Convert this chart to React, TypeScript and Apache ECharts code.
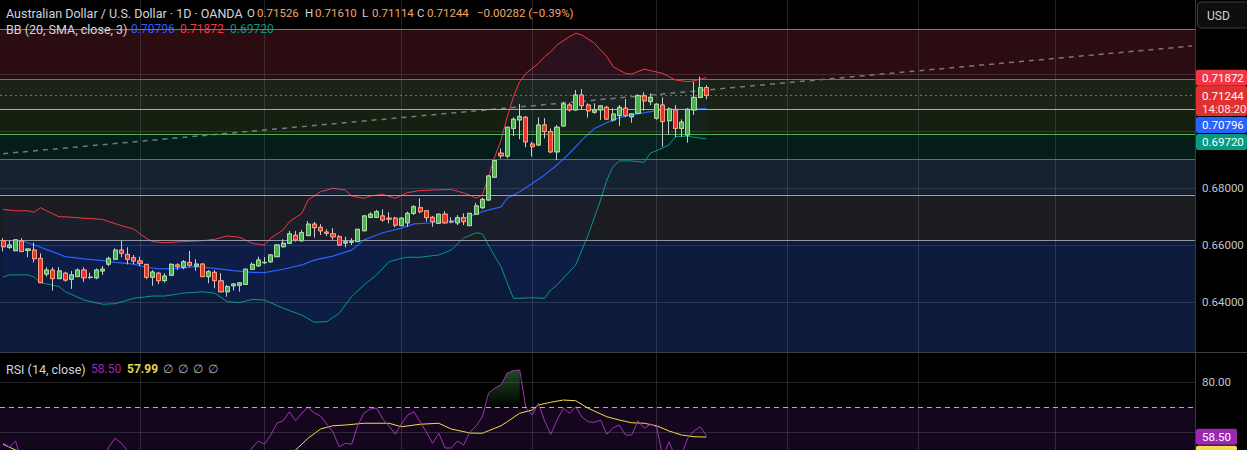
import React, { useEffect, useRef } from "react";
import * as echarts from "echarts";

const W = 1247;
const H = 450;
const SLOT_COUNT = 192;
const categories = Array.from({ length: SLOT_COUNT }, (_, i) => `D${i + 1}`);

const opens = [0.6615,0.6592,0.6580,0.6614,0.6581,0.6582,0.6553,0.6498,0.6512,0.6482,
 0.6501,0.6480,0.6489,0.6512,0.6486,0.6485,0.6509,0.6533,0.6550,0.6582,
 0.6567,0.6555,0.6544,0.6532,0.6487,0.6501,0.6475,0.6494,0.6530,0.6522,
 0.6539,0.6526,0.6533,0.6489,0.6504,0.6474,0.6436,0.6457,0.6459,0.6462,
 0.6515,0.6527,0.6538,0.6541,0.6559,0.6594,0.6606,0.6634,0.6615,0.6633,
 0.6673,0.6662,0.6645,0.6639,0.6629,0.6607,0.6610,0.6612,0.6650,0.6697,
 0.6697,0.6702,0.6694,0.6694,0.6668,0.6678,0.6711,0.6731,0.6720,0.6697,
 0.6676,0.6708,0.6682,0.6678,0.6696,0.6668,0.6708,0.6731,0.6758,0.6838,
 0.6922,0.6912,0.7009,0.7039,0.7048,0.6954,0.6951,0.7021,0.6998,0.6927,
 0.7018,0.7091,0.7074,0.7126,0.7091,0.7066,0.7074,0.7083,0.7039,0.7054,
 0.7080,0.7050,0.7062,0.7123,0.7103,0.7045,0.7091,0.7036,0.7074,0.7009,
 0.6986,0.7074,0.7118,0.71526];
const highs = [0.6624,0.6615,0.6619,0.6624,0.6588,0.6609,0.6571,0.6522,0.6522,0.6522,
 0.6506,0.6509,0.6518,0.6522,0.6503,0.6518,0.6526,0.6559,0.6588,0.6615,
 0.6592,0.6565,0.6559,0.6533,0.6512,0.6506,0.6501,0.6536,0.6536,0.6547,
 0.6579,0.6550,0.6535,0.6512,0.6512,0.6501,0.6460,0.6466,0.6470,0.6516,
 0.6539,0.6559,0.6557,0.6568,0.6602,0.6620,0.6650,0.6649,0.6653,0.6684,
 0.6681,0.6673,0.6655,0.6659,0.6635,0.6629,0.6624,0.6656,0.6704,0.6715,
 0.6723,0.6725,0.6715,0.6699,0.6697,0.6717,0.6740,0.6764,0.6723,0.6702,
 0.6709,0.6719,0.6697,0.6705,0.6711,0.6712,0.6748,0.6766,0.6844,0.6897,
 0.6939,0.7015,0.7048,0.7095,0.7053,0.6962,0.7048,0.7045,0.7009,0.7021,
 0.7103,0.7099,0.7144,0.7147,0.7097,0.7097,0.7091,0.7088,0.7080,0.7091,
 0.7112,0.7062,0.7129,0.7136,0.7132,0.7097,0.7118,0.7083,0.7091,0.7041,
 0.7080,0.7173,0.7191,0.71610];
const lows = [0.6577,0.6586,0.6579,0.6575,0.6557,0.6539,0.6467,0.6489,0.6440,0.6481,
 0.6471,0.6446,0.6488,0.6471,0.6480,0.6480,0.6495,0.6526,0.6547,0.6557,
 0.6532,0.6532,0.6526,0.6480,0.6457,0.6463,0.6468,0.6492,0.6512,0.6515,
 0.6524,0.6509,0.6488,0.6466,0.6448,0.6435,0.6419,0.6440,0.6436,0.6461,
 0.6512,0.6524,0.6533,0.6539,0.6558,0.6592,0.6606,0.6612,0.6612,0.6632,
 0.6626,0.6635,0.6632,0.6618,0.6596,0.6592,0.6600,0.6611,0.6649,0.6694,
 0.6694,0.6682,0.6676,0.6662,0.6667,0.6664,0.6705,0.6711,0.6682,0.6664,
 0.6675,0.6674,0.6676,0.6670,0.6670,0.6667,0.6705,0.6726,0.6756,0.6837,
 0.6904,0.6904,0.6982,0.6971,0.6943,0.6910,0.6948,0.6974,0.6922,0.6898,
 0.7015,0.7068,0.7071,0.7074,0.7047,0.7060,0.7039,0.7039,0.7033,0.7018,
 0.7048,0.7029,0.7060,0.7071,0.7091,0.7039,0.6945,0.6986,0.6978,0.6980,
 0.6959,0.7056,0.7115,0.71114];
const closes = [0.6594,0.6600,0.6618,0.6577,0.6586,0.6552,0.6468,0.6512,0.6482,0.6509,
 0.6477,0.6495,0.6512,0.6485,0.6487,0.6512,0.6515,0.6553,0.6582,0.6571,
 0.6550,0.6544,0.6536,0.6487,0.6505,0.6475,0.6491,0.6532,0.6524,0.6541,
 0.6529,0.6533,0.6489,0.6506,0.6475,0.6436,0.6454,0.6463,0.6467,0.6515,
 0.6532,0.6547,0.6539,0.6565,0.6600,0.6606,0.6639,0.6618,0.6643,0.6673,
 0.6661,0.6650,0.6641,0.6629,0.6600,0.6611,0.6611,0.6655,0.6702,0.6708,
 0.6717,0.6688,0.6691,0.6670,0.6694,0.6711,0.6734,0.6717,0.6696,0.6682,
 0.6708,0.6678,0.6681,0.6696,0.6682,0.6711,0.6737,0.6760,0.6842,0.6896,
 0.6913,0.7013,0.7041,0.7051,0.6962,0.6945,0.7021,0.6998,0.6927,0.7013,
 0.7095,0.7074,0.7126,0.7089,0.7071,0.7074,0.7088,0.7042,0.7059,0.7083,
 0.7054,0.7060,0.7124,0.7106,0.7118,0.7094,0.7033,0.7077,0.7009,0.7031,
 0.7076,0.7118,0.7152,0.71244];

// Bollinger bands: [candle index, price]
const bbUpper = [[0,0.6725],[2,0.6720],[4,0.6720],[5,0.6715],[6,0.6731],[7,0.6720],[9,0.6699],[10,0.6699],[13,0.6694],[16,0.6690],[17,0.6682],[19,0.6668],[21,0.6656],[22,0.6639],[23,0.6624],[24,0.6612],[26,0.6608],[29,0.6612],[32,0.6615],[34,0.6620],[36,0.6632],[38,0.6627],[40,0.6606],[42,0.6600],[43,0.6624],[45,0.6653],[46,0.6682],[48,0.6711],[49,0.6758],[51,0.6787],[53,0.6799],[55,0.6793],[56,0.6772],[58,0.6764],[59,0.6772],[61,0.6778],[63,0.6764],[65,0.6784],[67,0.6791],[69,0.6793],[72,0.6795],[73,0.6789],[75,0.6775],[76,0.6764],[77,0.6775],[78,0.6840],[79,0.6910],[80,0.6968],[81,0.7050],[82,0.7120],[83,0.7173],[84,0.7202],[86,0.7237],[87,0.7261],[88,0.7278],[89,0.7302],[91,0.7331],[92,0.7343],[93,0.7337],[95,0.7308],[97,0.7261],[98,0.7226],[100,0.7202],[101,0.7200],[103,0.7217],[104,0.7212],[106,0.7202],[108,0.7179],[110,0.7173],[111,0.7176],[113,0.71872]];
const bbBasis = [[0,0.6615],[3,0.6615],[5,0.6600],[8,0.6576],[10,0.6559],[13,0.6551],[16,0.6545],[18,0.6539],[21,0.6533],[23,0.6522],[25,0.6516],[28,0.6518],[31,0.6524],[34,0.6518],[37,0.6510],[40,0.6504],[42,0.6503],[45,0.6515],[48,0.6530],[50,0.6547],[53,0.6561],[56,0.6582],[58,0.6618],[61,0.6643],[64,0.6659],[66,0.6674],[69,0.6678],[72,0.6685],[74,0.6694],[77,0.6717],[80,0.6734],[81,0.6764],[83,0.6787],[85,0.6816],[87,0.6846],[89,0.6881],[91,0.6922],[93,0.6968],[95,0.7009],[98,0.7039],[100,0.7053],[102,0.7060],[104,0.7068],[106,0.7074],[108,0.7076],[111,0.7077],[113,0.70796]];
const bbLower = [[0,0.6487],[1,0.6495],[4,0.6495],[5,0.6487],[6,0.6468],[9,0.6454],[10,0.6436],[13,0.6407],[16,0.6392],[18,0.6394],[21,0.6413],[24,0.6421],[26,0.6421],[29,0.6431],[32,0.6436],[34,0.6431],[36,0.6401],[38,0.6398],[40,0.6409],[42,0.6407],[45,0.6378],[48,0.6354],[50,0.6329],[52,0.6331],[54,0.6360],[56,0.6419],[58,0.6460],[60,0.6495],[62,0.6541],[64,0.6553],[65,0.6557],[67,0.6557],[70,0.6565],[72,0.6582],[74,0.6624],[76,0.6643],[77,0.6639],[79,0.6559],[80,0.6524],[81,0.6466],[82,0.6413],[83,0.6413],[85,0.6415],[87,0.6413],[88,0.6442],[89,0.6460],[92,0.6530],[94,0.6635],[96,0.6758],[97,0.6828],[98,0.6875],[99,0.6895],[101,0.6895],[103,0.6890],[104,0.6922],[105,0.6931],[107,0.6951],[108,0.6980],[110,0.6982],[111,0.6978],[113,0.6972]];

const rsiValues = [55.5,54,56.4,48,50,46,37,40,38,42,
 41,43,45,43,44,47,48,54,57.6,55.5,
 52.5,52,50,44,47,44,46,50,49,50,
 48,49,46,47,45,41,42,44,46,50,
 53.6,56.4,55.1,58.8,63.5,64.5,68.1,64.5,67.6,69.9,
 67.6,66.4,63.2,60,54.1,55.5,55.1,62.8,67.6,69.2,
 69.6,65.2,62.4,59.1,63.2,66.8,68.1,64,60,55.5,
 59.5,53.6,53.6,56.4,54.8,60,62.4,66,75.6,77.6,
 78.8,83.6,84.6,84.8,69.5,66.8,71.5,64.4,59.1,64.8,
 69.5,67.5,70.1,66,64.1,63.9,64.8,59.1,61.6,62.8,
 58.8,58.8,64.5,61.5,63.1,62,50,56.1,50,51,
 57.5,60.4,62.1,58.5];
const rsiMa = [[0,55.1],[2,52.8],[3,52],[10,47],[20,46],[30,45],[40,48],[45,51],[47,52.8],[49,57.5],[51,61.2],[53,62.5],[55,62.8],[58,63.5],[62,63.5],[64,62.1],[67,63.1],[70,63.5],[72,61.2],[75,59.6],[77,59.5],[79,61.5],[80,62.5],[81,64.1],[83,67.5],[85,68.8],[86,70.8],[88,71.9],[90,72.8],[92,72.5],[94,69.5],[97,66.1],[99,64.8],[101,63.7],[103,63.5],[105,62.5],[107,60.4],[109,58.8],[111,58.1],[113,57.99]];
const OB_FROM = 78;
const OB_TO = 83;

const fibLevels = [0.73579, 0.71832, 0.70751, 0.69877, 0.69003, 0.67759, 0.66175];
const fibLineColors = ["#787b86", "#f23645", "#81c784", "#4caf50", "#089981", "#64b5f6", "#9598a1"];
const fibZoneColors = ["#2b0d11", "#1b2216", "#152011", "#051d19", "#162131", "#1b1c20", "#0c1a3b"];

const PRICE_MIN = 0.62246;
const PRICE_MAX = 0.74596;
const RSI_MIN = 52.8;
const RSI_MAX = 91.6;
const priceTicks = [0.64, 0.66, 0.68];
const priceGridLevels = [0.64, 0.66, 0.68, 0.7, 0.72];
const rsiTicks = [80];
const rsiGridLevels = [60, 80];
const monthIdx = [22, 42, 64, 85, 105, 126, 147, 169];
const trendPts = [[0, 0.69204], [191, 0.72981]];
const rsiLast = 58.5;
const rsiMaLast = 57.99;
const countdown = "14:08:20";
const changeText = "\u22120.00282 (\u22120.39%)";

const FONT = "Roboto";
const GRID_COLOR = "rgba(130,134,150,0.26)";

const hline = (v: number, extra: any = {}) => ({ yAxis: v, ...extra });
const vline = (i: number) => ({ xAxis: categories[i] });

function buildOption() {
  const zones = fibZoneColors.map((c, k) => [
    { yAxis: fibLevels[k], itemStyle: { color: c } },
    { yAxis: k + 1 < fibLevels.length ? fibLevels[k + 1] : PRICE_MIN },
  ]);
  const markLineBase = { silent: true, precision: 6, symbol: ["none", "none"], label: { show: false } };
  return {
    animation: false,
    backgroundColor: "#000000",
    textStyle: { fontFamily: FONT },
    grid: [
      { left: 0, right: 52, top: 0, height: 352 },
      { left: 0, right: 52, top: 353, height: 97 },
    ],
    xAxis: [0, 1].map((g) => ({
      type: "category",
      gridIndex: g,
      data: categories,
      boundaryGap: true,
      axisLine: { show: false },
      axisTick: { show: false },
      axisLabel: { show: false },
      splitLine: { show: false },
    })),
    yAxis: [
      {
        type: "value", gridIndex: 0, position: "right", min: PRICE_MIN, max: PRICE_MAX,
        axisLine: { show: true, lineStyle: { color: "#363a45" } },
        axisTick: { show: false }, splitLine: { show: false },
        axisLabel: { customValues: priceTicks, formatter: (v: number) => v.toFixed(5), color: "#c3c5cc", fontSize: 11.5, fontFamily: FONT, margin: 7 },
      },
      {
        type: "value", gridIndex: 1, position: "right", min: RSI_MIN, max: RSI_MAX,
        axisLine: { show: true, lineStyle: { color: "#363a45" } },
        axisTick: { show: false }, splitLine: { show: false },
        axisLabel: { customValues: rsiTicks, formatter: (v: number) => v.toFixed(2), color: "#c3c5cc", fontSize: 11.5, fontFamily: FONT, margin: 7 },
      },
    ],
    series: [
      { type: "line", name: "zones", xAxisIndex: 0, yAxisIndex: 0, data: [], z: 0, silent: true,
        markArea: { silent: true, precision: 6, data: zones } },
      { type: "line", name: "grid", xAxisIndex: 0, yAxisIndex: 0, data: [], z: 1, silent: true,
        markLine: { ...markLineBase, lineStyle: { color: GRID_COLOR, width: 1, type: "solid" },
          data: [...priceGridLevels.map((v) => hline(v)), ...monthIdx.map(vline)] } },
      { type: "custom", name: "bbfill", xAxisIndex: 0, yAxisIndex: 0, z: 2, silent: true, data: [[0, 0.7]],
        renderItem: (_p: any, api: any) => {
          const up = bbUpper.map(([i, v]) => api.coord([i, v]));
          const lo = bbLower.slice().reverse().map(([i, v]) => api.coord([i, v]));
          return { type: "polygon", shape: { points: up.concat(lo) }, style: { fill: "rgba(41,98,255,0.05)" }, silent: true };
        } },
      { type: "line", name: "fib", xAxisIndex: 0, yAxisIndex: 0, data: [], z: 3, silent: true,
        markLine: { ...markLineBase, lineStyle: { width: 1, type: "solid" },
          data: fibLevels.map((v, k) => hline(v, { lineStyle: { color: fibLineColors[k], width: 1, type: "solid" } })) } },
      { type: "line", name: "last", xAxisIndex: 0, yAxisIndex: 0, data: [], z: 3, silent: true,
        markLine: { ...markLineBase, lineStyle: { color: "#f23645", width: 1, type: [2, 3] },
          data: [hline(closes[closes.length - 1])] } },
      { type: "line", name: "BB lower", xAxisIndex: 0, yAxisIndex: 0, data: bbLower, showSymbol: false, z: 4,
        lineStyle: { color: "#089981", width: 1 } },
      { type: "line", name: "BB basis", xAxisIndex: 0, yAxisIndex: 0, data: bbBasis, showSymbol: false, z: 4,
        lineStyle: { color: "#2962ff", width: 1.2 } },
      { type: "line", name: "BB upper", xAxisIndex: 0, yAxisIndex: 0, data: bbUpper, showSymbol: false, z: 4,
        lineStyle: { color: "#f23645", width: 1 } },
      { type: "line", name: "trend", xAxisIndex: 0, yAxisIndex: 0, data: trendPts, showSymbol: false, z: 4,
        lineStyle: { color: "rgba(150,154,165,0.75)", width: 1.5, type: [5, 5] } },
      { type: "candlestick", name: "wicks", xAxisIndex: 0, yAxisIndex: 0, z: 5, barWidth: 4.6,
        data: opens.map((o, i) => [o, closes[i], lows[i], highs[i]]),
        itemStyle: { color: "rgba(0,0,0,0)", color0: "rgba(0,0,0,0)", borderColor: "#c9cbd1", borderColor0: "#c9cbd1", borderWidth: 1 } },
      { type: "candlestick", name: "bodies", xAxisIndex: 0, yAxisIndex: 0, z: 6, barWidth: 4.6,
        data: opens.map((o, i) => [o, closes[i], Math.min(o, closes[i]), Math.max(o, closes[i])]),
        itemStyle: { color: "#4caf50", color0: "#e8342c", borderColor: "#a5e0a0", borderColor0: "#ff9a76", borderWidth: 1 } },

      { type: "line", name: "rsi bg", xAxisIndex: 1, yAxisIndex: 1, data: [], z: 0, silent: true,
        markArea: { silent: true, data: [[{ yAxis: 70, itemStyle: { color: "#14071d" } }, { yAxis: RSI_MIN }]] },
        markLine: { ...markLineBase, lineStyle: { color: GRID_COLOR, width: 1, type: "solid" },
          data: [...rsiGridLevels.map((v) => hline(v)), ...monthIdx.map(vline)] } },
      { type: "line", name: "rsi 70", xAxisIndex: 1, yAxisIndex: 1, data: [], z: 1, silent: true,
        markLine: { ...markLineBase, lineStyle: { color: "rgba(205,200,220,0.85)", width: 1, type: [5, 4] }, data: [hline(70)] } },
      { type: "line", name: "ob fill", xAxisIndex: 1, yAxisIndex: 1, z: 2, showSymbol: false, silent: true,
        data: rsiValues.map((v, i) => [i, v]).filter(([i]) => i >= OB_FROM && i <= OB_TO),
        lineStyle: { opacity: 0 },
        areaStyle: { origin: 70, color: new echarts.graphic.LinearGradient(0, 0, 0, 1, [
          { offset: 0, color: "rgba(76,175,80,0.6)" }, { offset: 1, color: "rgba(76,175,80,0.02)" }]) } },
      { type: "line", name: "RSI MA", xAxisIndex: 1, yAxisIndex: 1, data: rsiMa, showSymbol: false, z: 3,
        lineStyle: { color: "#f2dc4b", width: 1 } },
      { type: "line", name: "RSI", xAxisIndex: 1, yAxisIndex: 1, data: rsiValues, showSymbol: false, z: 4,
        lineStyle: { color: "#9c34b8", width: 1 } },
    ],
  };
}

function txt(x: number, y: number, text: string, fill: string, size = 12.5, weight = "normal") {
  return {
    type: "text", x, y, z: 100, silent: true,
    style: { text, fill, font: `${weight} ${size}px ${FONT}`, verticalAlign: "middle", textVerticalAlign: "middle", align: "left", textAlign: "left" },
  };
}
function box(y: number, h: number, fill: string, w = 51) {
  return { type: "rect", z: 99, silent: true, shape: { x: 1196, y, width: w, height: h, r: 2 }, style: { fill } };
}

function buildGraphics(chart: any) {
  const py = (v: number) => chart.convertToPixel({ yAxisIndex: 0 }, v) as number;
  const ry = (v: number) => chart.convertToPixel({ yAxisIndex: 1 }, v) as number;
  const n = closes.length - 1;
  const upV = bbUpper[bbUpper.length - 1][1];
  const baV = bbBasis[bbBasis.length - 1][1];
  const loV = bbLower[bbLower.length - 1][1];
  const lastV = closes[n];
  const g: any[] = [];
  const LBL = "#d1d4dc";
  const VAL = "#f4a46a";
  const NUM = 12;
  const HNUM = 11.5;
  // header line 1
  g.push(txt(6, 13, "Australian Dollar / U.S. Dollar \u00b7 1D \u00b7 OANDA", LBL));
  const ohlc: [string, number, number][] = [["O", opens[n], 247], ["H", highs[n], 305], ["L", lows[n], 362], ["C", closes[n], 417]];
  ohlc.forEach(([k, v, x]) => {
    g.push(txt(x, 13, k, LBL, HNUM));
    g.push(txt(x + 10, 13, v.toFixed(5), VAL, HNUM));
  });
  g.push(txt(477, 13, changeText, VAL, HNUM));
  // header line 2
  g.push(txt(6, 29, "BB (20, SMA, close, 3)", LBL));
  g.push(txt(131, 29, baV.toFixed(5), "#2962ff", NUM));
  g.push(txt(180, 29, upV.toFixed(5), "#f23645", NUM));
  g.push(txt(230, 29, loV.toFixed(5), "#089981", NUM));
  // RSI header
  const ry0 = 369;
  g.push(txt(6, ry0, "RSI (14, close)", LBL));
  g.push(txt(91, ry0, rsiLast.toFixed(2), "#9c27b0", NUM));
  g.push(txt(127, ry0, rsiMaLast.toFixed(2), "#e8d64a", NUM, "bold"));
  [163, 178, 193, 208].forEach((x) => g.push(txt(x, ry0, "\u2205", "#b2b5be", NUM)));
  // pane separator
  g.push({ type: "line", z: 98, silent: true, shape: { x1: 0, y1: 352.5, x2: W, y2: 352.5 }, style: { stroke: "#3a3e49", lineWidth: 1 } });
  // USD button
  g.push({ type: "rect", z: 99, silent: true, shape: { x: 1197.5, y: 2, width: 52, height: 26, r: 4 }, style: { fill: "#0e0e0e", stroke: "#3a3e49", lineWidth: 1 } });
  g.push(txt(1207, 15.5, "USD", LBL, 12));
  // price labels
  const LF = 11.5;
  const c1 = py(upV);
  g.push(box(c1 - 8, 16, "#f23645"));
  g.push(txt(1202, c1, upV.toFixed(5), "#ffffff", LF));
  const c2 = py(lastV);
  g.push(box(c2 - 9.5, 30, "#e0302f"));
  g.push(txt(1202, c2, lastV.toFixed(5), "#ffffff", LF));
  g.push(txt(1202, c2 + 13, countdown, "#ffe0e0", LF));
  const c3 = Math.max(py(baV), c2 + 20.5 + 1 + 8);
  g.push(box(c3 - 8, 16, "#2962ff"));
  g.push(txt(1202, c3, baV.toFixed(5), "#ffffff", LF));
  const c4 = Math.max(py(loV), c3 + 17);
  g.push(box(c4 - 8, 16, "#089981"));
  g.push(txt(1202, c4, loV.toFixed(5), "#ffffff", LF));
  // RSI labels
  const r1 = ry(rsiLast) + 1;
  g.push(box(r1 - 8, 16, "#9c27b0", 41));
  g.push(txt(1202, r1, rsiLast.toFixed(2), "#ffffff", LF));
  const r2 = Math.max(ry(rsiMaLast), r1 + 17);
  g.push(box(r2 - 8, 16, "#f2dc4b", 41));
  g.push(txt(1202, r2, rsiMaLast.toFixed(2), "#131722", LF));
  return g;
}

export default function App() {
  const ref = useRef<HTMLDivElement>(null);
  useEffect(() => {
    document.body.style.margin = "0";
    document.body.style.background = "#000";
    const chart = echarts.init(ref.current as HTMLDivElement, null, { renderer: "svg" });
    chart.setOption(buildOption() as any);
    chart.setOption({ graphic: buildGraphics(chart) } as any);
    return () => chart.dispose();
  }, []);
  return <div ref={ref} style={{ width: W, height: H }} />;
}
